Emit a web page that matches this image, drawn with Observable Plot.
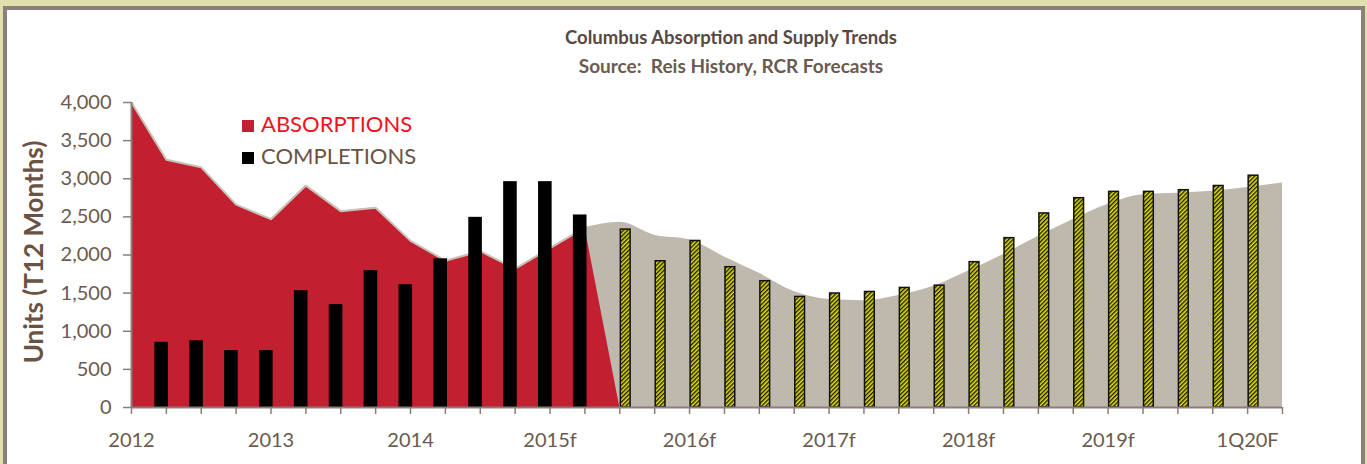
<!DOCTYPE html>
<html>
<head>
<meta charset="utf-8">
<script src="https://cdn.jsdelivr.net/npm/d3@7"></script>
<script src="https://cdn.jsdelivr.net/npm/@observablehq/plot@0.6"></script>
<style>
html, body { margin: 0; padding: 0; width: 1367px; height: 464px; overflow: hidden; background: #e2dfae; font-family: Lato, "Open Sans", sans-serif; }
#frame { position: absolute; left: 3px; top: 6px; width: 1354px; height: 470px; background: #fff; border: 4px solid #8a7f79; border-bottom: none; }
#chart { position: absolute; left: 0; top: 0; }
.title { position: absolute; left: 431px; width: 600px; text-align: center; white-space: nowrap; }
#t1 { top: 28px; font-size: 18.5px; font-weight: 700; color: #574842; line-height: 18px; }
#t2 { top: 56px; font-size: 19px; font-weight: 700; color: #6b5a4e; line-height: 19px; }
#ytitle { position: absolute; left: 33px; top: 252px; transform: translate(-50%, -50%) rotate(-90deg); font-size: 26px; font-weight: 700; color: #6b5344; white-space: nowrap; }
.leg { position: absolute; left: 242px; font-size: 22px; line-height: 22px; white-space: nowrap; }
.leg span.sw { display: inline-block; width: 12px; height: 12px; margin-right: 7px; vertical-align: 0px; }
#leg1 { top: 113px; color: #f2121c; }
#leg2 { top: 145px; color: #6b5343; }
</style>
</head>
<body>
<div id="frame"></div>
<div id="chart"></div>
<div class="title" id="t1">Columbus Absorption and Supply Trends</div>
<div class="title" id="t2">Source:&nbsp; Reis History, RCR Forecasts</div>
<div id="ytitle">Units (T12 Months)</div>
<div class="leg" id="leg1"><span class="sw" style="background:#c21f33"></span>ABSORPTIONS</div>
<div class="leg" id="leg2"><span class="sw" style="background:#000"></span>COMPLETIONS</div>
<script>
// Quarter index 0 = 1Q2012 ... 32 = 1Q2020, 33 = 2Q2020
const yearLabels = ["2012", "2013", "2014", "2015f", "2016f", "2017f", "2018f", "2019f", "1Q20F"];
const yTicks = [0, 500, 1000, 1500, 2000, 2500, 3000, 3500, 4000];
// Absorptions (history) quarters 0..13
const absorptionHist = [4000, 3250, 3150, 2660, 2470, 2910, 2575, 2620, 2185, 1925, 2050, 1820, 2090, 2360];
// Absorptions (forecast) quarters 13..33
const absorptionFcst = [2360, 2430, 2260, 2200, 1975, 1760, 1520, 1415, 1400, 1470, 1590, 1790, 2005, 2245, 2465, 2665, 2790, 2810, 2835, 2885, 2945];
// Completions (history) quarters 1..13
const completionsHist = [855, 875, 746, 746, 1532, 1350, 1795, 1610, 1950, 2494, 2962, 2962, 2525];
// Completions (forecast) quarters 14..32
const completionsFcst = [2333, 1918, 2184, 1840, 1656, 1450, 1495, 1515, 1568, 1598, 1906, 2221, 2545, 2745, 2828, 2828, 2850, 2905, 3040];

const histRows = absorptionHist.map((v, i) => ({i, v})).concat([{i: absorptionHist.length, v: 0}]);
const fcstRows = absorptionFcst.map((v, k) => ({i: 13 + k, v}));
const compH = completionsHist.map((v, k) => ({i: 1 + k, v}));
const compF = completionsFcst.map((v, k) => ({i: 14 + k, v}));

const axisColor = "#8b7e78";
const textColor = "#6b5a4e";

const chart = Plot.plot({
  width: 1367, height: 464,
  marginLeft: 131, marginRight: 85, marginTop: 102, marginBottom: 57,
  style: {background: "transparent", fontFamily: "Lato, 'Open Sans', sans-serif", color: textColor, overflow: "visible"},
  x: {domain: [0, 33], axis: null},
  y: {domain: [0, 4000], axis: null},
  marks: [
    Plot.areaY(fcstRows, {x: "i", y: "v", fill: "#bfb8ad", curve: "monotone-x"}),
    Plot.areaY(histRows, {x: "i", y: "v", fill: "#c21f31"}),
    Plot.lineY(histRows.slice(0, absorptionHist.length), {x: "i", y: "v", stroke: "#c9c2b7", strokeWidth: 2}),
    Plot.rectY(compH, {x1: d => d.i - 0.33, x2: d => d.i + 0.06, y1: 0, y2: "v", fill: "#000"}),
    Plot.rectY(compF, {x1: d => d.i + 0.03, x2: d => d.i + 0.31, y1: 0, y2: "v", fill: "url(#hatch)", stroke: "#111", strokeWidth: 1.5}),
    Plot.ruleX([0], {stroke: axisColor, strokeWidth: 2}),
    Plot.ruleY([0], {stroke: axisColor, strokeWidth: 2}),
    Plot.axisY({ticks: yTicks, tickFormat: d3.format(","), tickSize: 8, tickPadding: 12, fontSize: 20, stroke: axisColor, fill: textColor, strokeWidth: 1.5, label: null}),
    Plot.axisX({ticks: d3.range(0, 34), tickFormat: () => "", tickSize: 7, stroke: axisColor, strokeWidth: 1.5, label: null}),
    Plot.axisX({ticks: d3.range(0, 33, 4), tickFormat: d => yearLabels[d / 4], tickSize: 0, tickPadding: 25, fontSize: 20, fill: textColor, label: null})
  ]
});

d3.select(chart).insert("defs", ":first-child").html(
  '<pattern id="hatch" patternUnits="userSpaceOnUse" width="3" height="3" patternTransform="rotate(45)">' +
  '<rect width="3" height="3" fill="#e6e400"></rect><rect width="1.4" height="3" fill="#1a1a00"></rect></pattern>'
);

document.getElementById("chart").appendChild(chart);
</script>
</body>
</html>
